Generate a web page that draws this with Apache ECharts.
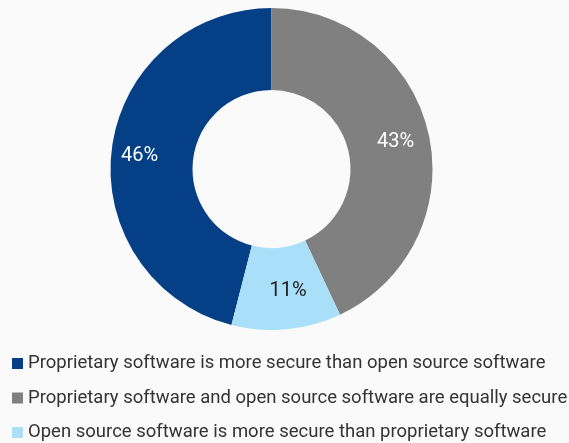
<!DOCTYPE html>
<html>
<head>
<meta charset="utf-8">
<script src="https://cdn.jsdelivr.net/npm/echarts@6/dist/echarts.min.js"></script>
<style>
html,body{margin:0;padding:0;background:#fafafa;}
#c{width:569px;height:443px;}
</style>
</head>
<body>
<div id="c"></div>
<script>
const categories = [
  "Proprietary software is more secure than open source software",
  "Proprietary software and open source software are equally secure",
  "Open source software is more secure than proprietary software"
];
const values = [46, 43, 11];
const colors = ["#053f86", "#808080", "#aadffa"];
const labelColors = ["#ffffff", "#ffffff", "#222222"];
const labelOffsets = [[-10, 2], [4, 0], [5, 0]];

const chart = echarts.init(document.getElementById('c'), null, {renderer: 'canvas'});
chart.setOption({
  backgroundColor: '#fafafa',
  animation: false,
  legend: {
    orient: 'vertical',
    left: 12,
    top: 354,
    height: 120,
    padding: 0,
    itemWidth: 11,
    itemHeight: 11,
    itemGap: 15.5,
    icon: 'rect',
    textStyle: {fontFamily: 'Roboto', fontSize: 18.5, color: '#333333'},
    data: categories
  },
  series: [{
    type: 'pie',
    center: [271.5, 169],
    radius: [79, 161],
    startAngle: 90 + values[0] * 3.6,
    clockwise: true,
    avoidLabelOverlap: false,
    label: {
      show: true,
      position: 'inside',
      formatter: '{c}%',
      fontFamily: 'Roboto',
      fontSize: 20
    },
    labelLine: {show: false},
    emphasis: {disabled: true},
    data: categories.map((n, i) => ({
      name: n,
      value: values[i],
      itemStyle: {color: colors[i]},
      label: {color: labelColors[i], offset: labelOffsets[i]}
    }))
  }]
});
</script>
</body>
</html>
